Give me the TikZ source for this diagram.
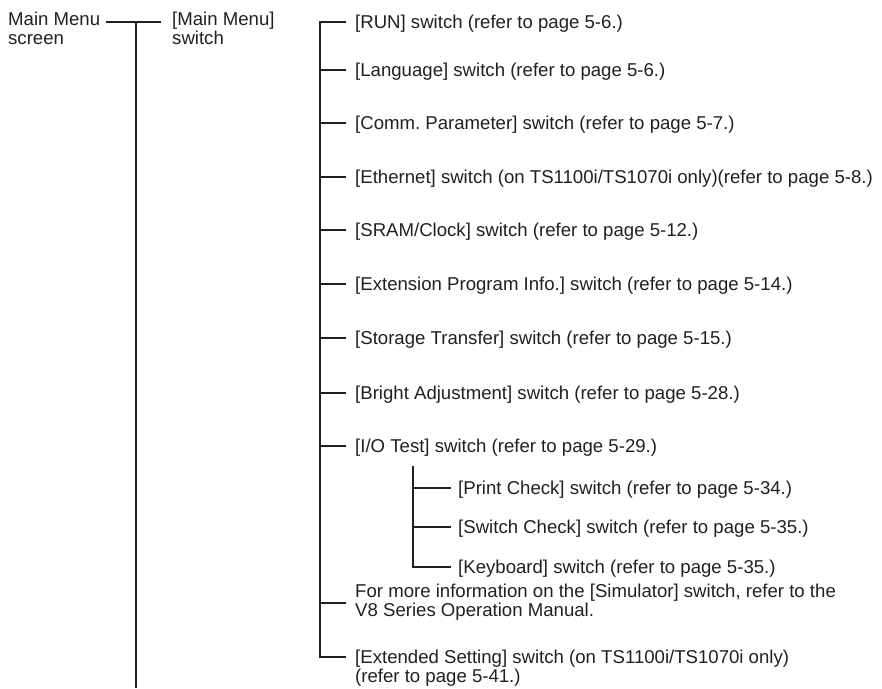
\documentclass[tikz,border=0pt]{standalone}
\usepackage{fontspec}
\setmainfont{Liberation Sans}
\usepackage{tikz}
\usetikzlibrary{positioning,calc}
\definecolor{ink}{RGB}{35,31,32}
\frenchspacing

\begin{document}
\begin{tikzpicture}[
    x=1pt, y=-1pt,
    font=\fontsize{18.6}{19}\selectfont, text=ink,
    item/.style={anchor=west, inner sep=0pt, text height=16.3pt, text depth=3.1pt},
    item2/.style={anchor=north west, inner sep=0pt, align=left},
    ln/.style={draw=ink, line width=2.6pt}
  ]
    \useasboundingbox (0,0) rectangle (882,688);
    % level 0 and 1
    \node[item2] (mm)   at (8,12)  {Main Menu\\screen};
    \node[item2] (mmsw) at (172,12) {[Main Menu]\\switch};
    \coordinate (top1) at (136,22);
    \coordinate (bot1) at (136,688);
    \draw[ln] (106,0 |- top1) -- ([xshift=-11pt]mmsw.north west |- top1);
    \draw[ln] (top1) -- (bot1);
    % level 2
    \node[item] (run)    at (355,22)  {[RUN] switch (refer to page 5-6.)};
    \node[item] (lang)   at (355,70)  {[Language] switch (refer to page 5-6.)};
    \node[item] (comm)   at (355,123) {[Comm. Parameter] switch (refer to page 5-7.)};
    \node[item] (eth)    at (355,177) {[Ethernet] switch (on TS1100i/TS1070i only)(refer to page 5-8.)};
    \node[item] (sram)   at (355,230) {[SRAM/Clock] switch (refer to page 5-12.)};
    \node[item] (extp)   at (355,284) {[Extension Program Info.] switch (refer to page 5-14.)};
    \node[item] (stor)   at (355,338) {[Storage Transfer] switch (refer to page 5-15.)};
    \node[item] (bright) at (355,393) {[Bright Adjustment] switch (refer to page 5-28.)};
    \node[item] (io)     at (355,446) {[I/O Test] switch (refer to page 5-29.)};
    \node[item2] (sim)   at (355,584) {For more information on the [Simulator] switch, refer to the\\V8 Series Operation Manual.};
    \node[item2] (exts)  at (355,650) {[Extended Setting] switch (on TS1100i/TS1070i only)\\(refer to page 5-41.)};
    \coordinate (bsim) at (346,603);
    \coordinate (bext) at (346,657);
    \draw[ln] ([xshift=-9pt]run.west) -| (320,0 |- bext) -- (bext);
    \draw[ln] (320,0 |- lang.west)   -- ([xshift=-9pt]lang.west);
    \draw[ln] (320,0 |- comm.west)   -- ([xshift=-9pt]comm.west);
    \draw[ln] (320,0 |- eth.west)    -- ([xshift=-9pt]eth.west);
    \draw[ln] (320,0 |- sram.west)   -- ([xshift=-9pt]sram.west);
    \draw[ln] (320,0 |- extp.west)   -- ([xshift=-9pt]extp.west);
    \draw[ln] (320,0 |- stor.west)   -- ([xshift=-9pt]stor.west);
    \draw[ln] (320,0 |- bright.west) -- ([xshift=-9pt]bright.west);
    \draw[ln] (320,0 |- io.west)     -- ([xshift=-9pt]io.west);
    \draw[ln] (320,0 |- bsim) -- (bsim);
    % level 3 (I/O Test)
    \node[item] (prt) at (458,488) {[Print Check] switch (refer to page 5-34.)};
    \node[item] (swc) at (458,527) {[Switch Check] switch (refer to page 5-35.)};
    \node[item] (kbd) at (458,567) {[Keyboard] switch (refer to page 5-35.)};
    \coordinate (top3) at (413,466);
    \draw[ln] (top3) |- ([xshift=-7pt]kbd.west);
    \draw[ln] (top3 |- prt.west) -- ([xshift=-7pt]prt.west);
    \draw[ln] (top3 |- swc.west) -- ([xshift=-7pt]swc.west);
\end{tikzpicture}
\end{document}
